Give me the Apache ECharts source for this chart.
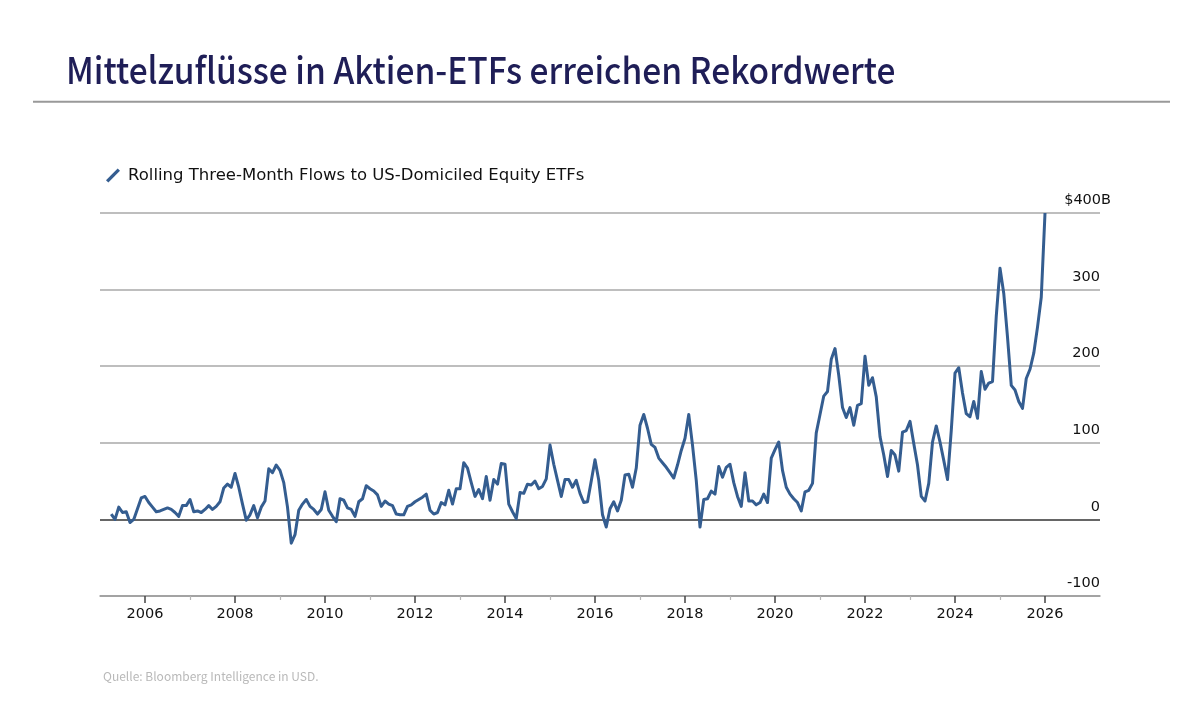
<!DOCTYPE html>
<html>
<head>
<meta charset="utf-8">
<script src="https://cdn.jsdelivr.net/npm/echarts@6/dist/echarts.min.js"></script>
<style>
html,body{margin:0;padding:0;background:#fff;}
#chart{width:1200px;height:706px;}
</style>
</head>
<body>
<div id="chart"></div>
<script>
// ---- Data ----
const titleText = 'Mittelzuflüsse in Aktien-ETFs erreichen Rekordwerte';
const seriesName = 'Rolling Three-Month Flows to US-Domiciled Equity ETFs';
const sourceText = 'Quelle: Bloomberg Intelligence in USD.';
// first observation: end of March 2005, monthly thereafter
const firstYear = 2005;
const firstMonth = 3;
// Rolling three-month flows, $ billions (one value per month)
const flows = [
  7, 0, 16, 9, 10, -4, 0, 14, 28, 30,
  22, 16, 10, 11, 13, 15, 13, 9, 4, 18,
  18, 26, 10, 11, 9, 13, 18, 13, 17, 23,
  41, 46, 42, 60, 42, 20, -1, 6, 18, 2,
  16, 24, 66, 61, 71, 64, 48, 16, -31, -20,
  12, 20, 26, 17, 13, 7, 13, 36, 12, 4,
  -3, 27, 25, 15, 13, 4, 23, 27, 44, 40,
  37, 32, 17, 24, 20, 18, 7, 6, 6, 17,
  19, 23, 26, 29, 33, 12, 7, 9, 22, 19,
  38, 20, 40, 40, 74, 67, 48, 30, 39, 27,
  56, 25, 52, 46, 73, 72, 20, 10, 1, 35,
  34, 46, 45, 50, 40, 43, 53, 97, 72, 51,
  30, 52, 52, 42, 51, 34, 22, 23, 50, 78,
  51, 6, -10, 14, 23, 11, 25, 58, 59, 42,
  67, 123, 137, 119, 98, 94, 80, 74, 68, 61,
  54, 71, 90, 106, 137, 97, 51, -10, 26, 27,
  37, 33, 69, 55, 68, 72, 48, 30, 17, 61,
  24, 24, 19, 22, 33, 22, 80, 91, 101, 64,
  42, 33, 27, 22, 11, 36, 38, 47, 113, 137,
  161, 167, 209, 223, 188, 146, 133, 146, 123, 149,
  151, 213, 175, 185, 160, 108, 84, 56, 90, 84,
  63, 114, 116, 128, 99, 71, 30, 24, 47, 101,
  122, 101, 77, 52, 116, 191, 198, 165, 138, 134,
  154, 132, 193, 170, 178, 180, 265, 328, 295, 238,
  175, 169, 154, 145, 184, 196, 217, 251, 290, 400
];
const majorYears = [2006, 2008, 2010, 2012, 2014, 2016, 2018, 2020, 2022, 2024, 2026];
const minorYears = [2007, 2009, 2011, 2013, 2015, 2017, 2019, 2021, 2023, 2025];

// month-end positions in decimal years
const points = flows.map((v, i) => [firstYear + (firstMonth + i) / 12, v]);

const chart = echarts.init(document.getElementById('chart'));
const labelFont = '"DejaVu Sans", "Noto Sans", sans-serif';
const xMin = 2005, xMax = 2027.222;

chart.setOption({
  backgroundColor: '#ffffff',
  animation: false,
  graphic: [
    { type: 'text', x: 66, y: 51, scaleX: 0.905, scaleY: 1, originX: 0, originY: 0,
      style: { text: titleText, fill: '#1f1e57', font: '500 37px "Noto Sans CJK SC", "Source Sans Pro", sans-serif' } },
    { type: 'rect', shape: { x: 33, y: 100.7, width: 1137, height: 2 }, style: { fill: '#999999' } },
    { type: 'text', left: 103, top: 670,
      style: { text: sourceText, fill: '#b9b9b9', font: '12px "Noto Sans CJK SC", sans-serif' } }
  ],
  legend: {
    show: true,
    left: 101, top: 162,
    itemWidth: 14, itemHeight: 14,
    icon: 'path://M0,12 L10,2 L12,4 L2,14 Z',
    textStyle: { fontFamily: labelFont, fontSize: 16.5, color: '#111', padding: [0, 0, 0, 3] },
    data: [seriesName]
  },
  grid: { left: 100, right: 100, top: 213, bottom: 110, containLabel: false },
  xAxis: [
    {
      type: 'value', min: xMin, max: xMax,
      axisLine: { show: true, onZero: false, lineStyle: { color: '#9a9a9a', width: 1.5 } },
      axisTick: { show: true, customValues: majorYears, length: 7, lineStyle: { color: '#444', width: 1.5 } },
      axisLabel: { show: true, customValues: majorYears, margin: 11, fontFamily: labelFont, fontSize: 14.5, color: '#111',
        formatter: v => String(v) },
      splitLine: { show: false }
    },
    {
      type: 'value', min: xMin, max: xMax, position: 'bottom',
      axisLine: { show: false, onZero: false },
      axisTick: { show: true, customValues: minorYears, length: 4, lineStyle: { color: '#b5b5b5', width: 1.2 } },
      axisLabel: { show: false },
      splitLine: { show: false }
    }
  ],
  yAxis: {
    type: 'value', position: 'right', min: -100, max: 400, interval: 100,
    axisLine: { show: false },
    axisTick: { show: false },
    axisLabel: {
      inside: true, margin: -11, verticalAlign: 'bottom',
      fontFamily: labelFont, fontSize: 14.5, color: '#111',
      formatter: v => v === 400 ? '{a|$400B}' : '{n|' + v + '}',
      rich: {
        a: { fontFamily: labelFont, fontSize: 14.5, color: '#111', padding: [0, 0, 5, 0] },
        n: { fontFamily: labelFont, fontSize: 14.5, color: '#111', padding: [0, 11, 5, 0] }
      }
    },
    splitLine: { show: true, lineStyle: { color: ['#a8a8a8', '#333333', '#a8a8a8', '#a8a8a8', '#a8a8a8', '#a8a8a8'], width: 1.5 } }
  },
  series: [{
    name: seriesName,
    type: 'line',
    xAxisIndex: 0,
    data: points,
    showSymbol: false,
    symbol: 'none',
    color: '#345d90',
    lineStyle: { color: '#345d90', width: 3, join: 'round' },
    z: 5
  }]
});
</script>
</body>
</html>
